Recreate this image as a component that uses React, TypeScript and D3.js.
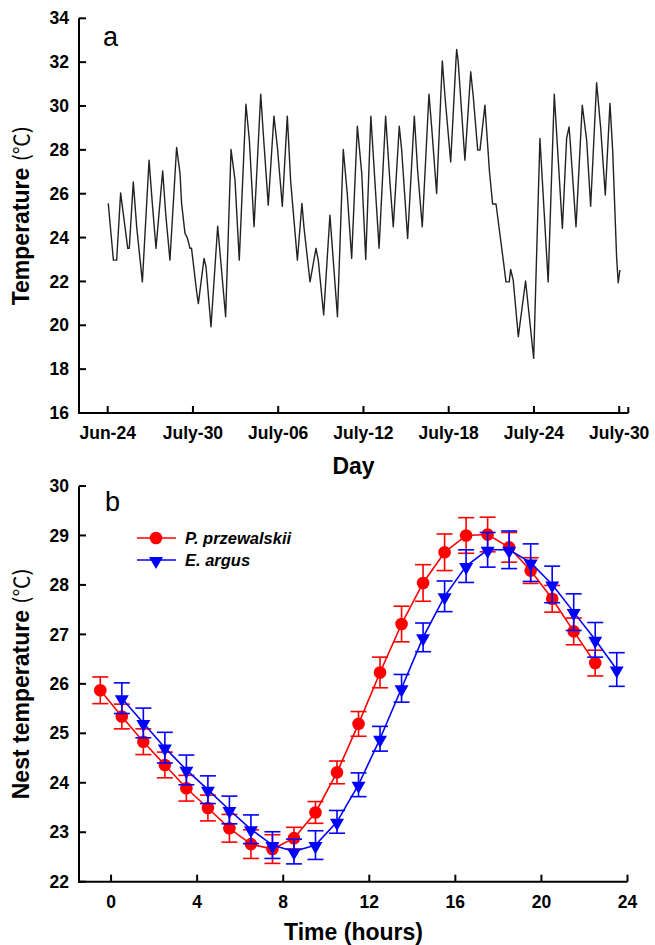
import React from 'react';
import * as d3 from 'd3';

// panel a: turning points of the logger trace (day since Jun-24, temperature)
const tempDay = [
  0.04, 0.4, 0.63, 0.91, 1.41, 1.52, 1.8, 2.04, 2.44, 2.91, 3.14, 3.4, 3.87, 4.08, 4.38, 4.85,
  5.09, 5.2, 5.44, 5.6, 5.79, 5.9, 6.26, 6.38, 6.78, 6.92, 7.27, 7.74, 8.3, 8.68, 8.96, 9.26,
  9.73, 9.97, 10.3, 10.77, 10.95, 11.3, 11.7, 11.94, 12.29, 12.64, 12.88, 13.35, 13.67, 13.81,
  14.24, 14.66, 14.75, 14.82, 15.2, 15.64, 16.17, 16.58, 16.86, 17.17, 17.57, 17.88, 18.16,
  18.52, 19.1, 19.56, 19.87, 20.1, 20.52, 20.69, 21.11, 21.58, 21.81, 22.14, 22.61, 22.8,
  23.15, 23.55, 23.74, 24.14, 24.51, 24.56, 24.67, 25.14, 25.55, 25.73, 26.04, 26.2, 26.55,
  26.86, 27.09, 27.33, 27.84, 28.03, 28.26, 28.36, 28.54, 28.9, 29.41, 29.98, 30.42, 31.0,
  31.43, 32.0, 32.3, 32.47, 32.54, 32.96, 33.4, 33.71, 33.99, 34.41, 34.69, 35.02, 35.35,
  35.54, 35.82, 35.93, 36.05,
];
const tempValue = [
  25.56, 22.97, 22.97, 26.04, 23.51, 23.51, 26.54, 24.49, 21.98, 27.53, 25.56, 23.51, 27.04,
  25.1, 22.97, 28.11, 26.93, 25.56, 24.19, 24.0, 23.51, 23.51, 21.53, 20.99, 23.05, 22.67,
  19.93, 24.52, 20.39, 28.02, 26.62, 22.97, 30.08, 28.44, 24.49, 30.54, 28.75, 25.48, 29.54,
  28.14, 25.43, 29.54, 26.54, 22.97, 25.56, 24.49, 21.98, 23.51, 23.2, 22.97, 20.47, 25.02,
  20.39, 28.02, 26.01, 23.05, 29.08, 26.93, 23.0, 29.54, 23.51, 29.54, 26.47, 24.49, 29.08,
  27.99, 23.96, 29.54, 27.08, 24.49, 30.54, 29.05, 26.01, 32.06, 30.42, 27.45, 32.06, 32.58,
  32.01, 27.53, 31.56, 30.42, 27.99, 27.99, 30.04, 27.08, 25.53, 25.53, 22.97, 21.98, 21.98,
  22.55, 22.06, 19.48, 22.02, 18.49, 28.52, 21.98, 30.54, 24.42, 28.52, 29.05, 28.47, 24.49,
  30.04, 28.44, 25.43, 31.06, 29.05, 25.94, 30.12, 27.99, 23.05, 21.94, 22.52,
];
const dayTicks = [0, 6, 12, 18, 24, 30, 36];
const dayLabels = ['Jun-24', 'July-30', 'July-06', 'July-12', 'July-18', 'July-24', 'July-30'];
const tempTicks = [16, 18, 20, 22, 24, 26, 28, 30, 32, 34];

// panel b: hourly nest temperature, mean and SE
const redHours = d3.range(-0.5, 23, 1);
const redMean = [
  25.87, 25.34, 24.83, 24.36, 23.89, 23.49, 23.08, 22.76, 22.66, 22.88, 23.4, 24.21, 25.19,
  26.23, 27.21, 28.04, 28.66, 29.0, 29.02, 28.76, 28.29, 27.72, 27.06, 26.42,
];
const redSE = [
  0.27, 0.25, 0.26, 0.26, 0.26, 0.26, 0.28, 0.29, 0.29, 0.22, 0.22, 0.23, 0.25, 0.31, 0.36,
  0.37, 0.37, 0.36, 0.35, 0.3, 0.26, 0.27, 0.27, 0.26,
];
const blueHours = d3.range(0.5, 24, 1);
const blueMean = [
  25.71, 25.21, 24.71, 24.26, 23.86, 23.45, 23.06, 22.74, 22.61, 22.74, 23.21, 23.96, 24.89,
  25.91, 26.94, 27.77, 28.38, 28.71, 28.71, 28.45, 28.01, 27.45, 26.89, 26.29,
];
const blueSE = [
  0.31, 0.3, 0.31, 0.3, 0.28, 0.28, 0.29, 0.27, 0.25, 0.29, 0.23, 0.24, 0.25, 0.28, 0.29,
  0.31, 0.33, 0.35, 0.38, 0.38, 0.37, 0.37, 0.35, 0.34,
];
const hourTicks = [0, 4, 8, 12, 16, 20, 24];
const nestTicks = [22, 23, 24, 25, 26, 27, 28, 29, 30];

const FONT = "'Liberation Sans', Arial, sans-serif";
const CJK = "'Noto Sans CJK SC', sans-serif";
const W = 655;
const H = 945;

const App = () => {
  // scales
  const xA = d3.scaleLinear().domain([-2.02, 36.64]).range([79, 628.3]);
  const yA = d3.scaleLinear().domain([16, 34]).range([413, 18.3]);
  const xB = d3.scaleLinear().domain([-1.49, 24]).range([79, 627.5]);
  const yB = d3.scaleLinear().domain([22, 30]).range([881.7, 486]);

  const traceLine = d3.line<number>()
    .x((d, i) => xA(tempDay[i]))
    .y(d => yA(d));

  const series = [
    { name: 'P. przewalskii', color: '#ff0000', hours: redHours, mean: redMean, se: redSE, shape: 'circle' },
    { name: 'E. argus', color: '#0000ff', hours: blueHours, mean: blueMean, se: blueSE, shape: 'triangle' },
  ];

  const tri = d3.symbol().type(d3.symbolTriangle).size(85)();

  const marker = (shape: string, color: string, x: number, y: number, key?: any) =>
    shape === 'circle'
      ? <circle key={key} cx={x} cy={y} r={6.3} fill={color} />
      : <path key={key} d={tri as string} fill={color} transform={`translate(${x},${y + 1}) rotate(180)`} />;

  const tickStyle = { fontFamily: FONT, fontSize: 17.5, fontWeight: 'bold' as const };
  const titleStyle = { fontFamily: FONT, fontSize: 23, fontWeight: 'bold' as const };

  return (
    <svg width={W} height={H} style={{ position: 'absolute', left: 0, top: 0, background: '#fff' }}>
      {/* ---------- panel a ---------- */}
      <g>
        <path d={traceLine(tempValue) || ''} fill="none" stroke="#222" strokeWidth={1.4} strokeLinejoin="round" />
        <line x1={79} x2={79} y1={yA(34)} y2={yA(16) + 1} stroke="#000" strokeWidth={2} />
        <line x1={78} x2={628.3} y1={yA(16)} y2={yA(16)} stroke="#000" strokeWidth={2} />
        {tempTicks.map(t => (
          <g key={t}>
            <line x1={79} x2={86} y1={yA(t)} y2={yA(t)} stroke="#000" strokeWidth={2} />
            <text x={69} y={yA(t)} dy="0.35em" textAnchor="end" {...tickStyle}>{t}</text>
          </g>
        ))}
        {dayTicks.map((t, i) => (
          <g key={t}>
            <line x1={xA(t)} x2={xA(t)} y1={413} y2={406} stroke="#000" strokeWidth={2} />
            <text x={xA(t)} y={439} textAnchor="middle" {...tickStyle}>{dayLabels[i]}</text>
          </g>
        ))}
        <line x1={628.3} x2={628.3} y1={413} y2={407} stroke="#000" strokeWidth={2} />
        <text x={103} y={46} fontFamily={FONT} fontSize={27}>a</text>
        <text x={353.5} y={474} textAnchor="middle" {...titleStyle}>Day</text>
        <text transform={`translate(29,${(yA(16) + yA(34)) / 2}) rotate(-90)`} textAnchor="middle" {...titleStyle}>
          Temperature <tspan fontWeight="normal" fontFamily={CJK} fontSize={21}>(℃)</tspan>
        </text>
      </g>

      {/* ---------- panel b ---------- */}
      <g>
        {series.map(s => {
          const line = d3.line<number>().x((d, i) => xB(s.hours[i])).y(d => yB(d));
          return (
            <g key={s.name}>
              <path d={line(s.mean) || ''} fill="none" stroke={s.color} strokeWidth={1.6} />
              {s.mean.map((m, i) => {
                const x = xB(s.hours[i]);
                const y0 = yB(m - s.se[i]);
                const y1 = yB(m + s.se[i]);
                return (
                  <g key={i} stroke={s.color} strokeWidth={1.6}>
                    <line x1={x} x2={x} y1={y0} y2={y1} />
                    <line x1={x - 8} x2={x + 8} y1={y0} y2={y0} />
                    <line x1={x - 8} x2={x + 8} y1={y1} y2={y1} />
                  </g>
                );
              })}
              {s.mean.map((m, i) => marker(s.shape, s.color, xB(s.hours[i]), yB(m), i))}
            </g>
          );
        })}

        <line x1={79} x2={79} y1={yB(30)} y2={yB(22) + 1} stroke="#000" strokeWidth={2} />
        <line x1={78} x2={627.5} y1={yB(22)} y2={yB(22)} stroke="#000" strokeWidth={2} />
        {nestTicks.map(t => (
          <g key={t}>
            <line x1={79} x2={86} y1={yB(t)} y2={yB(t)} stroke="#000" strokeWidth={2} />
            <text x={69} y={yB(t)} dy="0.35em" textAnchor="end" {...tickStyle}>{t}</text>
          </g>
        ))}
        {hourTicks.map(t => (
          <g key={t}>
            <line x1={xB(t)} x2={xB(t)} y1={yB(22)} y2={yB(22) - 7} stroke="#000" strokeWidth={2} />
            <text x={xB(t)} y={908} textAnchor="middle" {...tickStyle}>{t}</text>
          </g>
        ))}
        <text x={105} y={511} fontFamily={FONT} fontSize={27}>b</text>

        {series.map((s, i) => {
          const ly = 538 + i * 22;
          return (
            <g key={s.name}>
              <line x1={137} x2={176} y1={ly} y2={ly} stroke={s.color} strokeWidth={1.6} />
              {marker(s.shape, s.color, 156, ly)}
              <text x={185} y={ly + 6} fontFamily={FONT} fontSize={16.5} fontWeight="bold" fontStyle="italic">{s.name}</text>
            </g>
          );
        })}

        <text x={353.5} y={940} textAnchor="middle" {...titleStyle}>Time (hours)</text>
        <text transform={`translate(29,${(yB(22) + yB(30)) / 2}) rotate(-90)`} textAnchor="middle" {...titleStyle}>
          Nest temperature <tspan fontWeight="normal" fontFamily={CJK} fontSize={21}>(℃)</tspan>
        </text>
      </g>
    </svg>
  );
};

export default App;
